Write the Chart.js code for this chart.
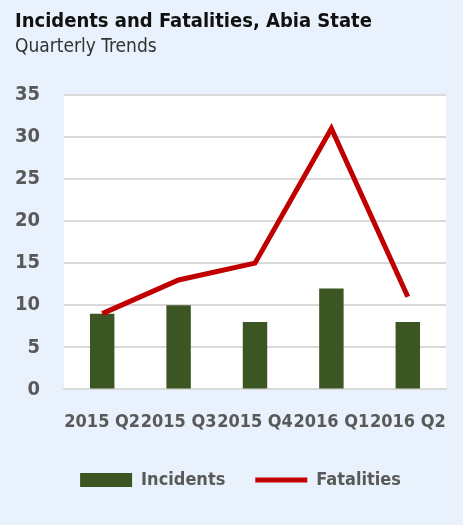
<!DOCTYPE html>
<html lang="en">
<head>
  <meta charset="UTF-8" />
  <title>Incidents and Fatalities, Abia State</title>
  <script src="https://cdn.jsdelivr.net/npm/chart.js"></script>
  <style>
    body {
      margin: 0;
      background: #e9f2fc;
    }
    .wrap {
      width: 463px;
      height: 525px;
    }
  </style>
</head>
<body>
  <div class="wrap">
    <canvas id="grafik"></canvas>
  </div>

  <script>
    const quarters = ['2015 Q2', '2015 Q3', '2015 Q4', '2016 Q1', '2016 Q2'];
    const incidents = [9, 10, 8, 12, 8];
    const fatalities = [9, 13, 15, 31, 11];
    const yTicks = [0, 5, 10, 15, 20, 25, 30, 35];

    const FONT = "'DejaVu Sans Condensed', 'Open Sans', sans-serif";

    // white plot background
    const plotBg = {
      id: 'plotBg',
      beforeDraw(chart) {
        const a = chart.chartArea;
        const c = chart.ctx;
        c.save();
        c.fillStyle = '#ffffff';
        c.fillRect(a.left, a.top, a.right - a.left, a.bottom - a.top);
        c.restore();
      }
    };

    // nudge legend a bit right and up, like the original
    const legendShift = {
      id: 'legendShift',
      afterLayout(chart) {
        if (chart.legend) {
          chart.legend.left += 10;
          chart.legend.right += 10;
          chart.legend.top -= 6;
          chart.legend.bottom -= 6;
        }
      }
    };

    const ctx = document.getElementById('grafik').getContext('2d');
    const chart = new Chart(ctx, {
      type: 'bar',
      data: {
        labels: quarters,
        datasets: [
          {
            label: 'Incidents',
            data: incidents,
            backgroundColor: '#3c5623',
            barPercentage: 0.32,
            categoryPercentage: 1,
            pointStyle: 'rect',
            order: 2
          },
          {
            type: 'line',
            label: 'Fatalities',
            data: fatalities,
            borderColor: '#c00000',
            backgroundColor: '#c00000',
            borderWidth: 5,
            pointRadius: 0,
            pointStyle: 'line',
            tension: 0,
            order: 1
          }
        ]
      },
      options: {
        responsive: true,
        maintainAspectRatio: false,
        animation: false,
        layout: { padding: { left: 15, right: 17, top: 0, bottom: 20 } },
        scales: {
          x: {
            grid: { display: false },
            border: { color: '#d9d9d9', width: 2 },
            ticks: { color: '#595959', font: { family: FONT, size: 18, weight: 'bold' }, maxRotation: 0, autoSkip: false, padding: 14 }
          },
          y: {
            min: 0,
            max: 35,
            afterBuildTicks(axis) { axis.ticks = yTicks.map(v => ({ value: v })); },
            afterFit(axis) { axis.width = 49; },
            grid: { color: '#d9d9d9', lineWidth: 2, drawTicks: false },
            border: { display: false },
            ticks: { color: '#595959', font: { family: FONT, size: 20, weight: 'bold' }, padding: 24 }
          }
        },
        plugins: {
          title: {
            display: true,
            text: 'Incidents and Fatalities, Abia State',
            align: 'start',
            color: '#111111',
            font: { family: FONT, size: 20, weight: 'bold' },
            padding: { top: 10, bottom: 2 }
          },
          subtitle: {
            display: true,
            text: 'Quarterly Trends',
            align: 'start',
            color: '#333333',
            font: { family: FONT, size: 19, weight: 'normal' },
            padding: { top: 0, bottom: 36 }
          },
          legend: {
            position: 'bottom',
            labels: {
              usePointStyle: true,
              pointStyleWidth: 52,
              boxHeight: 14,
              padding: 30,
              color: '#595959',
              font: { family: FONT, size: 18, weight: 'bold' },
              sort: (a, b) => a.datasetIndex - b.datasetIndex
            }
          },
          tooltip: { enabled: false }
        }
      },
      plugins: [plotBg, legendShift]
    });
  </script>
</body>
</html>
